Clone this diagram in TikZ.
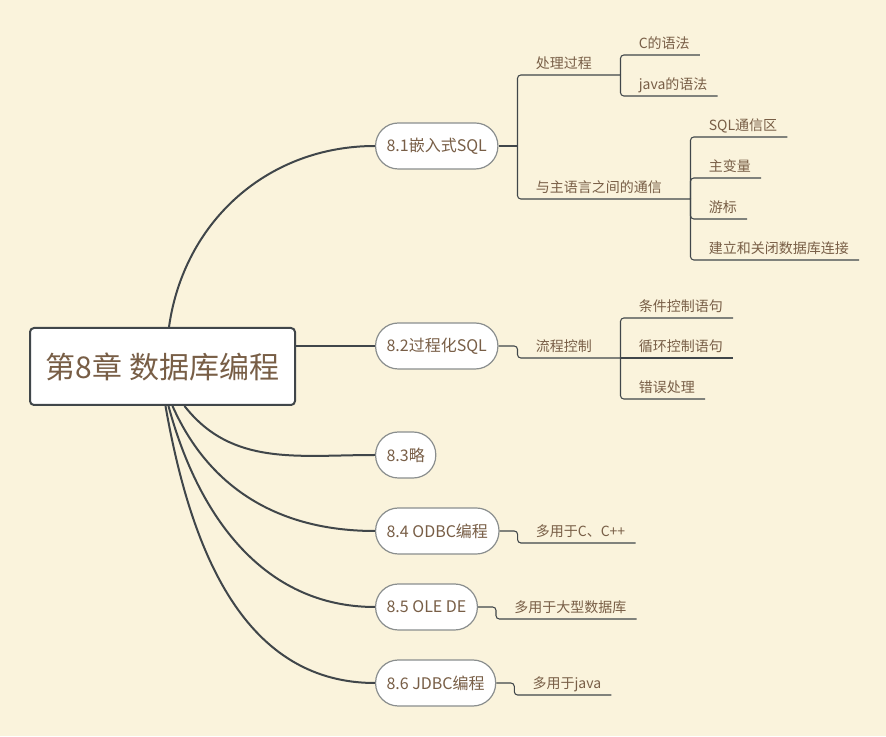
\documentclass[tikz,border=0pt]{standalone}
\usepackage{fontspec}
\setmainfont{Noto Sans CJK SC}
\usetikzlibrary{positioning, calc}

\definecolor{bgcream}{HTML}{FAF3DC}
\definecolor{inkbrown}{HTML}{785E46}
\definecolor{lineslate}{HTML}{40464A}
\definecolor{pillgray}{HTML}{8A8E8E}

\begin{document}
\begin{tikzpicture}[
    x=0.75pt, y=0.75pt,
    every node/.style={text=inkbrown},
    root/.style={rectangle, draw=lineslate, line width=1.5pt, fill=white, rounded corners=3pt,
                 minimum width=198.75pt, minimum height=57.75pt, font=\fontsize{22.5}{27}\selectfont},
    topic/.style={rectangle, draw=pillgray, line width=0.9pt, fill=white, rounded corners=17pt,
                  minimum height=34.5pt, inner xsep=8.25pt, font=\fontsize{12}{14}\selectfont},
    leaf/.style={anchor=south west, inner xsep=7.5pt, inner ysep=3pt, text height=8pt, text depth=2pt,
                 font=\fontsize{10.5}{13}\selectfont},
    curve/.style={line width=1.5pt, draw=lineslate},
    branch/.style={line width=0.8pt, draw=lineslate, rounded corners=2.5pt}
]

% ============ CANVAS ============
\fill[bgcream] (0,0) rectangle (886,736);
\useasboundingbox (0,0) rectangle (886,736);

% ============ CENTRAL TOPIC ============
\node[root] (root) at (162.5,369.5) {第8章 数据库编程};

% ============ MAIN TOPICS ============
\node[topic, anchor=west] (s1) at (375,590) {8.1嵌入式SQL};
\node[topic, anchor=west] (s2) at (375,390) {8.2过程化SQL};
\node[topic, anchor=west] (s3) at (375,281) {8.3略};
\node[topic, anchor=west] (s4) at (375,205) {8.4 ODBC编程};
\node[topic, anchor=west] (s5) at (375,129) {8.5 OLE DE};
\node[topic, anchor=west] (s6) at (375,53) {8.6 JDBC编程};

% Curves from the centre
\draw[curve] ($(root.north)+(6.5,0)$) to[out=82, in=180] (s1.west);
\draw[curve] (root.east |- s2.west) -- (s2.west);
\draw[curve] ($(root.south)+(22,0)$) to[out=-52, in=180] (s3.west);
\draw[curve] ($(root.south)+(10,0)$) to[out=-66, in=180] (s4.west);
\draw[curve] ($(root.south)+(6,0)$) to[out=-75, in=180] (s5.west);
\draw[curve] ($(root.south)+(3,0)$) to[out=-80, in=180] (s6.west);

% ============ 8.1 SUBTOPICS ============
\coordinate (j1) at ($(s1.east)+(19,0)$);
\coordinate (k1) at ($(j1)+(103,71)$);
\coordinate (k2) at ($(j1)+(173,-53)$);

\node[leaf] (p1) at ($(j1)+(8,71)$) {处理过程};
\node[leaf] (p2) at ($(j1)+(8,-53)$) {与主语言之间的通信};
\node[leaf] (c1) at ($(k1)+(8,20)$) {C的语法};
\node[leaf] (c2) at ($(k1)+(8,-21)$) {java的语法};
\node[leaf] (c3) at ($(k2)+(8,62)$) {SQL通信区};
\node[leaf] (c4) at ($(k2)+(8,21)$) {主变量};
\node[leaf] (c5) at ($(k2)+(8,-20)$) {游标};
\node[leaf] (c6) at ($(k2)+(8,-61)$) {建立和关闭数据库连接};

\draw[branch] (s1.east) -- (j1);
\draw[branch] (j1) |- (k1);
\draw[branch] (j1) |- (k2);
\draw[branch] (k1) |- (c1.south east);
\draw[branch] (k1) |- (c2.south east);
\draw[branch] (k2) |- (c3.south east);
\draw[branch] (k2) |- (c4.south east);
\draw[branch] (k2) |- (c5.south east);
\draw[branch] (k2) |- (c6.south east);

% ============ 8.2 SUBTOPICS ============
\coordinate (j2) at ($(s2.east)+(19,0)$);
\coordinate (k3) at ($(j2)+(103,-12)$);

\node[leaf] (p3) at ($(j2)+(8,-12)$) {流程控制};
\node[leaf] (d1) at ($(k3)+(8,40)$) {条件控制语句};
\node[leaf] (d2) at ($(k3)+(8,0)$) {循环控制语句};
\node[leaf] (d3) at ($(k3)+(8,-41)$) {错误处理};

\draw[branch] (s2.east) -- (j2) |- (k3);
\draw[branch] (k3) |- (d1.south east);
\draw[branch] (k3) -- (d2.south east);
\draw[branch] (k3) |- (d3.south east);

% ============ 8.4 - 8.6 NOTES ============
\coordinate (j4) at ($(s4.east)+(18,0)$);
\coordinate (j5) at ($(s5.east)+(18,0)$);
\coordinate (j6) at ($(s6.east)+(18,0)$);

\node[leaf] (e4) at ($(j4)+(8,-12)$) {多用于C、C++};
\node[leaf] (e5) at ($(j5)+(8,-12)$) {多用于大型数据库};
\node[leaf] (e6) at ($(j6)+(8,-12)$) {多用于java};

\draw[branch] (s4.east) -- (j4) |- (e4.south east);
\draw[branch] (s5.east) -- (j5) |- (e5.south east);
\draw[branch] (s6.east) -- (j6) |- (e6.south east);

\end{tikzpicture}
\end{document}
